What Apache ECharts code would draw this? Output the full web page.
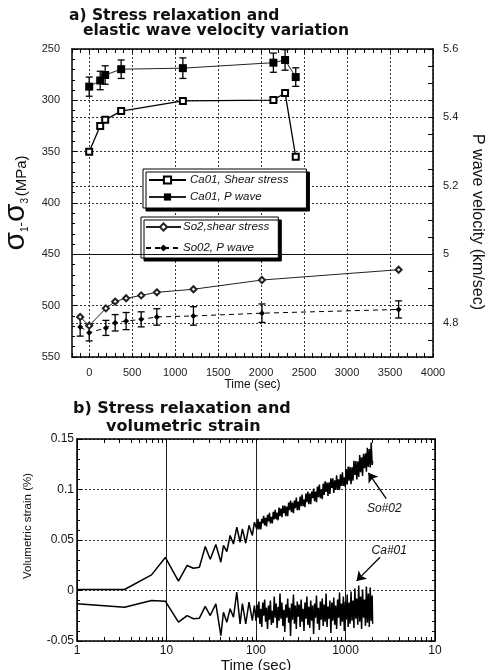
<!DOCTYPE html>
<html><head><meta charset="utf-8">
<script src="https://cdn.jsdelivr.net/npm/echarts@6/dist/echarts.min.js"></script>
<style>html,body{margin:0;padding:0;background:#fff}#c{width:490px;height:670px}</style>
</head><body><div id="c"></div>
<script>
// ---------- Panel a data ----------
const timeCa01 = [0, 128, 186, 372, 1090, 2143, 2279, 2403];
const shearCa01 = [350, 325, 319, 310.5, 300.6, 299.7, 292.8, 355];
const pwaveCa01 = [5.490, 5.508, 5.524, 5.541, 5.544, 5.560, 5.568, 5.518];
const pwaveCa01Err = [0.028, 0.027, 0.027, 0.027, 0.030, 0.028, 0.030, 0.027];

const timeSo02 = [-105, 0, 194, 302, 430, 605, 787, 1213, 2010, 3600];
const shearSo02 = [511, 519.5, 502.6, 496, 492.8, 490, 487, 484, 475, 465];
const pwaveSo02 = [4.788, 4.771, 4.785, 4.800, 4.805, 4.810, 4.817, 4.820, 4.828, 4.839];
const pwaveSo02Err = [0.027, 0.024, 0.022, 0.024, 0.025, 0.022, 0.024, 0.027, 0.027, 0.025];

const xTickLabelsA = [0, 500, 1000, 1500, 2000, 2500, 3000, 3500, 4000];

// ---------- Panel b data ----------
const timeEarly = [1, 3.4, 6.8, 9.7, 13.6, 17, 20, 23.3, 27.1, 30.8, 35.6, 40.5, 43.3, 47.2, 51.4, 56, 61, 66.4, 70.5, 76.8, 83.6, 91, 96];
const strainSo02Early = [0.001, 0.001, 0.0155, 0.0327, 0.0092, 0.0248, 0.022, 0.023, 0.0436, 0.031, 0.0455, 0.028, 0.0446, 0.0386, 0.0545, 0.046, 0.0627, 0.0478, 0.061, 0.0468, 0.0644, 0.0545, 0.0676];
const strainCa01Early = [-0.0132, -0.0165, -0.0099, -0.0106, -0.0314, -0.0248, -0.028, -0.0274, -0.0158, -0.0248, -0.0132, -0.0446, -0.0215, -0.0314, -0.018, -0.0264, -0.0017, -0.033, -0.013, -0.033, -0.0116, -0.0297, -0.0149];

const timeDense = [100, 102.5, 105.1, 107.7, 110.4, 113.1, 116, 118.9, 121.8, 124.9,
  128, 131.2, 134.5, 137.9, 141.3, 144.8, 148.5, 152.2, 156, 159.9,
  163.9, 168, 172.2, 176.5, 180.9, 185.4, 190, 194.8, 199.7, 204.7,
  209.8, 215, 220.4, 225.9, 231.6, 237.4, 243.3, 249.4, 255.6, 262,
  268.5, 275.2, 282.1, 289.2, 296.4, 303.8, 311.4, 319.2, 327.2, 335.4,
  343.8, 352.4, 361.2, 370.2, 379.5, 389, 398.7, 408.7, 418.9, 429.4,
  440.1, 451.1, 462.4, 474, 485.8, 498, 510.4, 523.2, 536.3, 549.7,
  563.4, 577.5, 592, 606.8, 621.9, 637.5, 653.4, 669.8, 686.5, 703.7,
  721.3, 739.3, 757.8, 776.7, 796.1, 816, 836.4, 857.3, 878.8, 900.8,
  923.3, 946.4, 970, 994.3, 1019, 1045, 1071, 1098, 1125, 1153,
  1182, 1212, 1242, 1273, 1305, 1338, 1371, 1405, 1441, 1477,
  1514, 1551, 1590, 1630, 1671, 1712, 1755, 1799, 1844, 1890,
  1937, 1986, 2010];
const strainSo02Dense = [0.069, 0.0605, 0.071, 0.0605, 0.068, 0.0605, 0.071, 0.0665, 0.074, 0.0645,
  0.072, 0.0635, 0.075, 0.0685, 0.077, 0.0665, 0.073, 0.0665, 0.078, 0.0705,
  0.080, 0.0705, 0.077, 0.0695, 0.082, 0.0735, 0.081, 0.0725, 0.084, 0.0765,
  0.084, 0.0735, 0.083, 0.0735, 0.087, 0.0795, 0.089, 0.0775, 0.087, 0.0765,
  0.089, 0.0815, 0.092, 0.0795, 0.088, 0.0795, 0.093, 0.0835, 0.095, 0.0835,
  0.090, 0.0825, 0.096, 0.0875, 0.098, 0.0855, 0.096, 0.0855, 0.098, 0.0915,
  0.101, 0.0885, 0.098, 0.0875, 0.103, 0.0925, 0.105, 0.0915, 0.100, 0.0905,
  0.106, 0.0945, 0.108, 0.0975, 0.107, 0.0935, 0.107, 0.0955, 0.111, 0.1015,
  0.111, 0.0965, 0.109, 0.0995, 0.114, 0.0995, 0.110, 0.0995, 0.115, 0.1035,
  0.117, 0.1035, 0.112, 0.1025, 0.1203, 0.1051, 0.1228, 0.1086, 0.1224, 0.1052,
  0.1220, 0.1087, 0.1285, 0.1143, 0.1281, 0.1099, 0.1276, 0.1124, 0.1342, 0.1170,
  0.1318, 0.1135, 0.1353, 0.1211, 0.1359, 0.1177, 0.1414, 0.1222, 0.1400, 0.1218,
  0.1466, 0.1243, 0.128];
const strainCa01Dense = [-0.030, -0.014, -0.027, -0.011, -0.033, -0.018, -0.036, -0.012, -0.025, -0.009,
  -0.031, -0.017, -0.038, -0.015, -0.029, -0.010, -0.034, -0.020, -0.032, -0.006,
  -0.027, -0.013, -0.037, -0.016, -0.030, -0.003, -0.028, -0.012, -0.035, -0.019,
  -0.041, -0.014, -0.027, -0.008, -0.032, -0.017, -0.045, -0.013, -0.029, -0.004,
  -0.033, -0.015, -0.038, -0.011, -0.026, -0.014, -0.036, -0.009, -0.031, -0.018,
  -0.040, -0.012, -0.028, -0.006, -0.034, -0.016, -0.037, -0.010, -0.030, -0.015,
  -0.043, -0.013, -0.027, -0.005, -0.033, -0.017, -0.039, -0.011, -0.029, -0.008,
  -0.035, -0.014, -0.031, -0.003, -0.036, -0.016, -0.028, -0.010, -0.042, -0.012,
  -0.030, -0.007, -0.034, -0.015, -0.038, -0.009, -0.027, -0.002, -0.035, -0.013,
  -0.031, -0.006, -0.040, -0.011, -0.029, -0.004, -0.036, -0.012, -0.033, -0.001,
  -0.030, -0.010, -0.037, 0.002, -0.028, -0.008, -0.034, 0.005, -0.031, -0.006,
  -0.038, 0.001, -0.027, -0.009, -0.035, 0.004, -0.032, -0.003, -0.036, 0.003,
  -0.030, -0.005, -0.033];

const xTickLabelsB = [1, 10, 100, 1000, 10000];

// ---------- helpers ----------
const zip = (a, b) => a.map((v, i) => [v, b[i]]);
const zip3 = (a, b, c) => a.map((v, i) => [v, b[i], c[i]]);
const FONT = '"Liberation Sans", Arial, Helvetica, sans-serif';
const TFONT = '"DejaVu Sans", sans-serif';
const T = 'rgba(0,0,0,0)';
const dash = { color: '#333', width: 1, type: [2, 2] };

function errorBar(params, api) {
  const x = api.value(0), y = api.value(1), e = api.value(2);
  const p1 = api.coord([x, y + e]);
  const p2 = api.coord([x, y - e]);
  const hw = 3.5;
  const st = { stroke: '#000', lineWidth: 1.3 };
  return { type: 'group', children: [
    { type: 'line', shape: { x1: p1[0], y1: p1[1], x2: p2[0], y2: p2[1] }, style: st },
    { type: 'line', shape: { x1: p1[0] - hw, y1: p1[1], x2: p1[0] + hw, y2: p1[1] }, style: st },
    { type: 'line', shape: { x1: p2[0] - hw, y1: p2[1], x2: p2[0] + hw, y2: p2[1] }, style: st }
  ]};
}

// log-position minor ticks for panel b (axis configuration)
const logTickPos = [];
[1, 10, 100, 1000].forEach(d => { for (let k = 1; k <= 9; k++) logTickPos.push(Math.log10(k * d)); });
logTickPos.push(4);

const axisLine = { show: true, onZero: false, lineStyle: { color: '#000', width: 1.5 } };
const tickIn = (len) => ({ show: true, inside: true, length: len, lineStyle: { color: '#000', width: 1 } });
const labelA = { fontFamily: FONT, fontSize: 11, color: '#222' };

const chart = echarts.init(document.getElementById('c'));
chart.setOption({
  animation: false,
  backgroundColor: '#fff',
  title: [
    { text: 'a) Stress relaxation and', left: 69, top: 8, padding: 0, textStyle: { fontFamily: TFONT, fontWeight: 'bold', fontSize: 15.5, color: '#111' } },
    { text: 'elastic wave velocity variation', left: 83, top: 23, padding: 0, textStyle: { fontFamily: TFONT, fontWeight: 'bold', fontSize: 15.5, color: '#111' } },
    { text: 'b) Stress relaxation and', left: 73, top: 401, padding: 0, textStyle: { fontFamily: TFONT, fontWeight: 'bold', fontSize: 16, color: '#111' } },
    { text: 'volumetric strain', left: 106, top: 419, padding: 0, textStyle: { fontFamily: TFONT, fontWeight: 'bold', fontSize: 16, color: '#111' } }
  ],
  legend: [
    { data: ['Ca01, Shear stress', 'Ca01, P wave'], orient: 'vertical', left: 143, top: 169,
      itemWidth: 37, itemHeight: 9, itemGap: 5, padding: [5, 18, 5, 5],
      backgroundColor: '#fff', borderColor: '#000', borderWidth: 1,
      shadowColor: '#000', shadowBlur: 0, shadowOffsetX: 3, shadowOffsetY: 3,
      textStyle: { fontFamily: FONT, fontStyle: 'italic', fontSize: 11.5, color: '#111', padding: [0, 0, 0, -1] },
      selectedMode: false },
    { data: ['So2,shear stress', 'So02, P wave'], orient: 'vertical', left: 141, top: 217,
      itemWidth: 35, itemHeight: 9, itemGap: 9, padding: [4, 9, 4, 4],
      backgroundColor: '#fff', borderColor: '#000', borderWidth: 1,
      shadowColor: '#000', shadowBlur: 0, shadowOffsetX: 3, shadowOffsetY: 3,
      textStyle: { fontFamily: FONT, fontStyle: 'italic', fontSize: 11.5, color: '#111', padding: [0, 0, 0, -3] },
      selectedMode: false }
  ],
  grid: [
    { left: 72, right: 57, top: 49, bottom: 313, outerBoundsMode: 'none', containLabel: false },
    { left: 77, right: 55, top: 439, bottom: 29, outerBoundsMode: 'none', containLabel: false }
  ],
  xAxis: [
    { gridIndex: 0, type: 'value', position: 'bottom', min: -200, max: 4000, interval: 100,
      axisLine, axisTick: tickIn(4),
      axisLabel: Object.assign({ margin: 10, customValues: xTickLabelsA, formatter: v => String(v) }, labelA),
      splitLine: { show: true, lineStyle: Object.assign({}, dash, { color: [T, T, '#333', T, T] }) },
      name: 'Time (sec)', nameLocation: 'middle', nameGap: 21,
      nameTextStyle: { fontFamily: FONT, fontSize: 12, color: '#111' } },
    { gridIndex: 0, type: 'value', position: 'top', min: -200, max: 4000, interval: 100,
      axisLine, axisTick: tickIn(4), axisLabel: { show: false }, splitLine: { show: false } },
    { gridIndex: 1, type: 'log', logBase: 10, position: 'bottom', min: 1, max: 10000,
      axisLine, axisTick: tickIn(5),
      axisLabel: { fontFamily: FONT, fontSize: 12, color: '#111', margin: 4,
        formatter: v => (v >= 10000 ? '10' : String(v)) },
      splitLine: { show: true, lineStyle: { color: '#222', width: 1 } },
      name: 'Time (sec)', nameLocation: 'middle', nameGap: 9,
      nameTextStyle: { fontFamily: FONT, fontSize: 15, color: '#111' } },
    { gridIndex: 1, type: 'value', position: 'top', min: 0, max: 4,
      axisLine, axisTick: Object.assign(tickIn(4), { customValues: logTickPos }),
      axisLabel: { show: false }, splitLine: { show: false } },
    { gridIndex: 1, type: 'value', position: 'bottom', min: 0, max: 4,
      axisLine: { show: false, onZero: false }, axisTick: Object.assign(tickIn(4), { customValues: logTickPos }),
      axisLabel: { show: false }, splitLine: { show: false } }
  ],
  yAxis: [
    { gridIndex: 0, type: 'value', position: 'left', inverse: true, min: 250, max: 550, interval: 50,
      axisLine, axisTick: tickIn(5), minorTick: { show: true, splitNumber: 5, length: 3, lineStyle: { color: '#000' } },
      axisLabel: Object.assign({ margin: 12 }, labelA),
      splitLine: { show: true, lineStyle: dash },
      name: '{s|σ}{sub|1}{d|-}{s|σ}{sub|3}{sp| }{m|(MPa)}', nameLocation: 'middle', nameGap: 34,
      nameTextStyle: { fontFamily: FONT, color: '#111',
        rich: {
          s: { fontSize: 30, fontFamily: FONT, color: '#111', verticalAlign: 'bottom' },
          sub: { fontSize: 10, fontFamily: FONT, color: '#111', verticalAlign: 'bottom' },
          d: { fontSize: 13, fontFamily: FONT, color: '#111', verticalAlign: 'bottom', padding: [0, 0, 3, 0] },
          sp: { fontSize: 6 },
          m: { fontSize: 15, fontFamily: FONT, color: '#111', verticalAlign: 'bottom', padding: [0, 0, 1, 0] }
        } } },
    { gridIndex: 0, type: 'value', position: 'right', min: 4.7, max: 5.6, interval: 0.1,
      axisLine, axisTick: tickIn(5), minorTick: { show: true, splitNumber: 2, length: 5, lineStyle: { color: '#000' } },
      axisLabel: Object.assign({ margin: 10,
        formatter: v => (Math.round(v * 10) % 2 === 0 ? String(Math.round(v * 10) / 10) : '') }, labelA),
      splitLine: { show: true, lineStyle: Object.assign({}, dash, { color: [T, '#333'] }) },
      name: 'P wave velocity (km/sec)', nameLocation: 'middle', nameRotate: -90, nameGap: 34,
      nameTextStyle: { fontFamily: FONT, fontSize: 16, color: '#111', padding: [0, 0, 0, 38] } },
    { gridIndex: 1, type: 'value', position: 'left', min: -0.05, max: 0.15, interval: 0.05,
      axisLine, axisTick: tickIn(5), minorTick: { show: true, splitNumber: 5, length: 3, lineStyle: { color: '#000' } },
      axisLabel: { fontFamily: FONT, fontSize: 12, color: '#111', margin: 3 },
      splitLine: { show: true, lineStyle: dash },
      name: 'Volumetric strain (%)', nameLocation: 'middle', nameGap: 43,
      nameTextStyle: { fontFamily: FONT, fontSize: 11.5, color: '#111', padding: [0, 0, 0, 28] } },
    { gridIndex: 1, type: 'value', position: 'right', min: -0.05, max: 0.15, interval: 0.05,
      axisLine, axisTick: tickIn(5), minorTick: { show: true, splitNumber: 5, length: 3, lineStyle: { color: '#000' } },
      axisLabel: { show: false }, splitLine: { show: false } }
  ],
  series: [
    { name: 'Ca01, Shear stress', type: 'line', xAxisIndex: 0, yAxisIndex: 0, data: zip(timeCa01, shearCa01),
      symbol: 'emptyRect', symbolSize: 6, lineStyle: { color: '#000', width: 1.3 },
      itemStyle: { color: '#000', borderColor: '#000', borderWidth: 1 }, z: 3 },
    { name: 'Ca01, P wave', type: 'line', xAxisIndex: 0, yAxisIndex: 1, data: zip(timeCa01, pwaveCa01),
      symbol: 'rect', symbolSize: 8, lineStyle: { color: '#222', width: 1 }, itemStyle: { color: '#000' }, z: 3 },
    { name: 'errCa01', type: 'custom', xAxisIndex: 0, yAxisIndex: 1, data: zip3(timeCa01, pwaveCa01, pwaveCa01Err),
      renderItem: errorBar, encode: { x: 0, y: 1 }, z: 2 },
    { name: 'So2,shear stress', type: 'line', xAxisIndex: 0, yAxisIndex: 0, data: zip(timeSo02, shearSo02),
      symbol: 'emptyDiamond', symbolSize: 6, lineStyle: { color: '#222', width: 1 },
      itemStyle: { color: '#222', borderColor: '#222', borderWidth: 1 }, z: 3,
      markLine: { silent: true, symbol: 'none', label: { show: false },
        lineStyle: { color: '#111', width: 1, type: 'solid' }, data: [{ yAxis: 450 }] } },
    { name: 'So02, P wave', type: 'line', xAxisIndex: 0, yAxisIndex: 1, data: zip(timeSo02, pwaveSo02),
      symbol: 'diamond', symbolSize: 6, lineStyle: { color: '#000', width: 1, type: [5, 4] }, itemStyle: { color: '#000' }, z: 3 },
    { name: 'errSo02', type: 'custom', xAxisIndex: 0, yAxisIndex: 1, data: zip3(timeSo02, pwaveSo02, pwaveSo02Err),
      renderItem: errorBar, encode: { x: 0, y: 1 }, z: 2 },
    { name: 'So#02', type: 'line', xAxisIndex: 2, yAxisIndex: 2,
      data: zip(timeEarly, strainSo02Early).concat(zip(timeDense, strainSo02Dense)),
      showSymbol: false, symbol: 'none', lineStyle: { color: '#000', width: 1.5 },
      markLine: { silent: true, symbol: ['none', 'arrow'], symbolSize: 9, label: { show: false },
        lineStyle: { color: '#000', width: 1.3, type: 'solid' },
        data: [[{ coord: [2850, 0.091] }, { coord: [1800, 0.1165] }]] },
      markPoint: { silent: true, symbol: 'circle', symbolSize: 0,
        label: { show: true, position: 'inside', formatter: 'So#02', fontFamily: FONT, fontStyle: 'italic', fontSize: 12, color: '#111' },
        data: [{ coord: [2712, 0.0812] }] } },
    { name: 'Ca#01', type: 'line', xAxisIndex: 2, yAxisIndex: 2,
      data: zip(timeEarly, strainCa01Early).concat(zip(timeDense, strainCa01Dense)),
      showSymbol: false, symbol: 'none', lineStyle: { color: '#000', width: 1.5 },
      markLine: { silent: true, symbol: ['none', 'arrow'], symbolSize: 9, label: { show: false },
        lineStyle: { color: '#000', width: 1.3, type: 'solid' },
        data: [[{ coord: [2430, 0.033] }, { coord: [1330, 0.0095] }]] },
      markPoint: { silent: true, symbol: 'circle', symbolSize: 0,
        label: { show: true, position: 'inside', formatter: 'Ca#01', fontFamily: FONT, fontStyle: 'italic', fontSize: 12, color: '#111' },
        data: [{ coord: [3083, 0.0396] }] } }
  ]
});
</script></body></html>
